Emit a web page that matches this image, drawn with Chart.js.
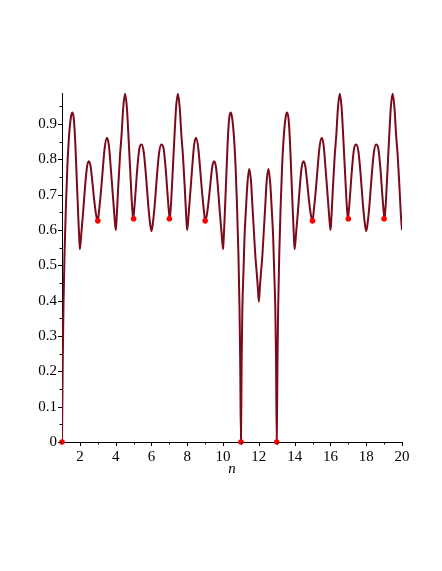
<!DOCTYPE html>
<html>
<head>
<meta charset="utf-8">
<script src="https://cdn.jsdelivr.net/npm/chart.js@4.4.1/dist/chart.umd.min.js"></script>
<style>
  html, body { margin: 0; padding: 0; background: #fff; }
  canvas { display: block; }
</style>
</head>
<body>
<canvas id="plot" width="442" height="571"></canvas>
<script>
// curve, one line per arch (n, value)
const curveN = [
  1.00, 1.04, 1.08, 1.14, 1.22, 1.30, 1.40, 1.50, 1.58, 1.66, 1.74, 1.82, 1.90, 1.96,
  2.00, 2.08, 2.18, 2.30, 2.40, 2.50, 2.60, 2.70, 2.80, 2.90, 2.96,
  3.00, 3.08, 3.16, 3.26, 3.38, 3.51, 3.62, 3.72, 3.81, 3.90, 3.96,
  4.01, 4.06, 4.14, 4.24, 4.33, 4.42, 4.52, 4.62, 4.72, 4.82, 4.90, 4.95,
  4.98, 5.03, 5.10, 5.20, 5.32, 5.45, 5.57, 5.70, 5.82, 5.92,
  6.00, 6.08, 6.18, 6.30, 6.43, 6.55, 6.68, 6.80, 6.90, 6.97,
  7.02, 7.05, 7.10, 7.18, 7.28, 7.38, 7.48, 7.58, 7.67, 7.76, 7.86, 7.94,
  7.99, 8.04, 8.10, 8.19, 8.28, 8.38, 8.49, 8.62, 8.74, 8.84, 8.92,
  9.00, 9.04, 9.10, 9.20, 9.30, 9.40, 9.50, 9.60, 9.70, 9.82, 9.92,
  10.00, 10.04, 10.10, 10.18, 10.26, 10.34, 10.42, 10.50, 10.60, 10.70, 10.78, 10.86, 10.92, 10.96,
  11.00, 11.04, 11.08, 11.14, 11.20, 11.28, 11.36, 11.46, 11.56, 11.64, 11.72, 11.80, 11.88, 11.94,
  12.00, 12.06, 12.12, 12.20, 12.28, 12.36, 12.44, 12.54, 12.64, 12.72, 12.80, 12.86, 12.92, 12.96,
  13.00, 13.04, 13.08, 13.14, 13.22, 13.30, 13.40, 13.50, 13.58, 13.66, 13.74, 13.82, 13.90, 13.96,
  14.00, 14.08, 14.18, 14.30, 14.40, 14.50, 14.60, 14.70, 14.80, 14.90, 14.96,
  15.00, 15.08, 15.16, 15.26, 15.38, 15.51, 15.62, 15.72, 15.81, 15.90, 15.96,
  16.01, 16.06, 16.14, 16.24, 16.33, 16.42, 16.52, 16.62, 16.72, 16.82, 16.90, 16.95,
  16.98, 17.03, 17.10, 17.20, 17.32, 17.45, 17.57, 17.70, 17.82, 17.92,
  18.00, 18.08, 18.18, 18.30, 18.43, 18.55, 18.68, 18.80, 18.90, 18.97,
  19.02, 19.05, 19.10, 19.18, 19.28, 19.38, 19.48, 19.58, 19.67, 19.76, 19.86, 19.94, 20.00
];
const curveF = [
  0, 0.22, 0.38, 0.53, 0.67, 0.78, 0.87, 0.92, 0.933, 0.915, 0.85, 0.75, 0.65, 0.58,
  0.546, 0.59, 0.65, 0.73, 0.78, 0.795, 0.78, 0.735, 0.685, 0.645, 0.630,
  0.626, 0.66, 0.70, 0.76, 0.83, 0.861, 0.84, 0.78, 0.72, 0.66, 0.62,
  0.600, 0.64, 0.72, 0.81, 0.87, 0.945, 0.986, 0.95, 0.86, 0.76, 0.68, 0.645,
  0.632, 0.655, 0.70, 0.77, 0.83, 0.842, 0.82, 0.75, 0.67, 0.62,
  0.597, 0.62, 0.67, 0.75, 0.82, 0.842, 0.83, 0.77, 0.70, 0.655,
  0.632, 0.645, 0.68, 0.76, 0.86, 0.95, 0.986, 0.945, 0.87, 0.81, 0.72, 0.64,
  0.600, 0.62, 0.66, 0.72, 0.78, 0.84, 0.861, 0.83, 0.76, 0.70, 0.66,
  0.626, 0.630, 0.645, 0.685, 0.735, 0.78, 0.795, 0.78, 0.73, 0.65, 0.59,
  0.546, 0.58, 0.65, 0.75, 0.85, 0.915, 0.933, 0.92, 0.87, 0.78, 0.67, 0.53, 0.38, 0.22,
  0, 0.24, 0.38, 0.48, 0.58, 0.66, 0.73, 0.773, 0.74, 0.67, 0.60, 0.53, 0.48, 0.44,
  0.397, 0.44, 0.48, 0.53, 0.60, 0.67, 0.74, 0.773, 0.73, 0.66, 0.58, 0.48, 0.38, 0.24,
  0, 0.22, 0.38, 0.53, 0.67, 0.78, 0.87, 0.92, 0.933, 0.915, 0.85, 0.75, 0.65, 0.58,
  0.546, 0.59, 0.65, 0.73, 0.78, 0.795, 0.78, 0.735, 0.685, 0.645, 0.630,
  0.626, 0.66, 0.70, 0.76, 0.83, 0.861, 0.84, 0.78, 0.72, 0.66, 0.62,
  0.600, 0.64, 0.72, 0.81, 0.87, 0.945, 0.986, 0.95, 0.86, 0.76, 0.68, 0.645,
  0.632, 0.655, 0.70, 0.77, 0.83, 0.842, 0.82, 0.75, 0.67, 0.62,
  0.597, 0.62, 0.67, 0.75, 0.82, 0.842, 0.83, 0.77, 0.70, 0.655,
  0.632, 0.645, 0.68, 0.76, 0.86, 0.95, 0.986, 0.945, 0.87, 0.81, 0.72, 0.64, 0.600
];

// red marks at odd n
const dotN = [1, 3, 5, 7, 9, 11, 13, 15, 17, 19];
const dotF = [0, 0.626, 0.632, 0.632, 0.626, 0, 0, 0.626, 0.632, 0.632];

const xTicks = [2, 4, 6, 8, 10, 12, 14, 16, 18, 20];
const yTicks = [0, 0.1, 0.2, 0.3, 0.4, 0.5, 0.6, 0.7, 0.8, 0.9];
const xTitle = 'n';

const FONT = 'Liberation Serif';

// maple style tick marks (major + minor, outside) and the italic axis title
const mapleAxes = {
    id: 'mapleAxes',
    afterDraw: (chart) => {
        const { ctx, chartArea, scales: { x, y } } = chart;
        ctx.save();
        ctx.strokeStyle = '#000';
        ctx.lineWidth = 1;
        ctx.beginPath();
        yTicks.forEach((v, i) => {
            const py = Math.round(y.getPixelForValue(v)) + 0.5;
            ctx.moveTo(chartArea.left - 4, py);
            ctx.lineTo(chartArea.left, py);
            const step = i < yTicks.length - 1 ? yTicks[i + 1] - v : v - yTicks[i - 1];
            const mid = v + step / 2;
            if (mid <= y.max) {
                const pm = Math.round(y.getPixelForValue(mid)) + 0.5;
                ctx.moveTo(chartArea.left - 2.5, pm);
                ctx.lineTo(chartArea.left, pm);
            }
        });
        xTicks.forEach((v, i) => {
            const px = Math.round(x.getPixelForValue(v)) + 0.5;
            ctx.moveTo(px, chartArea.bottom);
            ctx.lineTo(px, chartArea.bottom + 4);
            if (i > 0) {
                const pm = Math.round(x.getPixelForValue((v + xTicks[i - 1]) / 2)) + 0.5;
                ctx.moveTo(pm, chartArea.bottom);
                ctx.lineTo(pm, chartArea.bottom + 2.5);
            }
        });
        ctx.stroke();

        ctx.fillStyle = '#000';
        ctx.font = 'italic 15px "' + FONT + '"';
        ctx.textAlign = 'center';
        ctx.textBaseline = 'middle';
        ctx.fillText(xTitle, (chartArea.left + chartArea.right) / 2, 469);
        ctx.restore();
    }
};

new Chart(document.getElementById('plot').getContext('2d'), {
    type: 'scatter',
    data: {
        datasets: [
            {
                label: 'marks',
                data: dotN.map((n, i) => ({ x: n, y: dotF[i] })),
                showLine: false,
                pointRadius: 2.8,
                pointBackgroundColor: '#ff0000',
                pointBorderWidth: 0,
                clip: false
            },
            {
                label: 'curve',
                data: curveN.map((n, i) => ({ x: n, y: curveF[i] })),
                showLine: true,
                pointRadius: 0,
                borderColor: '#7a0a1c',
                borderWidth: 2,
                cubicInterpolationMode: 'monotone',
                fill: false
            }
        ]
    },
    options: {
        responsive: false,
        animation: false,
        devicePixelRatio: 1,
        layout: { padding: { top: 93, right: 40, bottom: 0, left: 0 } },
        plugins: {
            legend: { display: false },
            tooltip: { enabled: false }
        },
        scales: {
            x: {
                type: 'linear',
                min: 1,
                max: 20,
                afterBuildTicks: (s) => { s.ticks = xTicks.map(v => ({ value: v })); },
                afterFit: (s) => { s.height = 129; },
                grid: { display: false, drawTicks: false },
                border: { display: true, color: '#000', width: 1 },
                ticks: {
                    padding: 6,
                    color: '#000',
                    maxRotation: 0,
                    autoSkip: false,
                    font: { family: FONT, size: 15 },
                    callback: (v) => String(v)
                }
            },
            y: {
                type: 'linear',
                min: 0,
                max: 0.988,
                afterBuildTicks: (s) => { s.ticks = yTicks.map(v => ({ value: v })); },
                afterFit: (s) => { s.width = 62; },
                grid: { display: false, drawTicks: false },
                border: { display: true, color: '#000', width: 1 },
                ticks: {
                    padding: 5,
                    color: '#000',
                    autoSkip: false,
                    font: { family: FONT, size: 15 },
                    callback: (v) => String(+v.toFixed(1))
                }
            }
        }
    },
    plugins: [mapleAxes]
});
</script>
</body>
</html>
